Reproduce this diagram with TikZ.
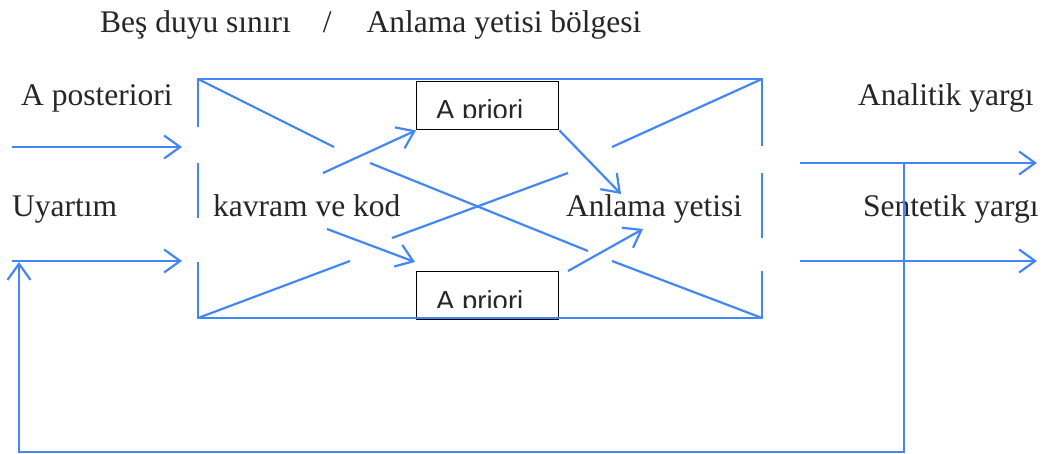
\documentclass[tikz,border=0pt]{standalone}
\usepackage{fontspec}
\setmainfont{Liberation Serif}
\newfontfamily\boxfont{Liberation Sans}
\usetikzlibrary{arrows.meta}
\definecolor{lblue}{RGB}{66,135,245}
\begin{document}
\begin{tikzpicture}[x=1pt,y=-1pt,
  bl/.style={draw=lblue, line width=2.2pt},
  arr/.style={bl, -{Straight Barb[length=16pt,width=23pt]}},
  lbl/.style={font=\fontsize{31.5}{36}\selectfont, inner sep=0pt, anchor=base west, text=black!85},
  pbox/.style={draw=black, line width=1.4pt, minimum width=142pt, minimum height=48pt, anchor=north west, inner sep=0pt},
  ptext/.style={font=\boxfont\fontsize{27.5}{30}\selectfont, inner sep=0pt, anchor=base west, text=black!85}]
\useasboundingbox (0,0) rectangle (1044,454);
% labels
\node[lbl] (title) at (100,33) {Beş duyu sınırı\hspace{32pt}/\hspace{35pt}Anlama yetisi bölgesi};
\node[lbl] (apost) at (21,106) {A posteriori};
\node[lbl] (uyar) at (12,217) {Uyartım};
\node[lbl] (kav) at (213,217) {kavram ve kod};
\node[lbl] (anl) at (566,217) {Anlama yetisi};
\node[lbl] (anal) at (858,106) {Analitik yargı};
\node[lbl] (sent) at (863,217) {Sentetik yargı};
% boxes
\node[pbox] (ap1) at (416,81) {};
\node[pbox] (ap2) at (416,271) {};
\begin{scope}
\clip (416,81) rectangle (558,118);
\node[ptext] (apt1) at (436,120) {A priori};
\end{scope}
\begin{scope}
\clip (416,271) rectangle (558,308);
\node[ptext] (apt2) at (436,310) {A priori};
\end{scope}
% frame coordinates
\coordinate (tl) at (198,79);
\coordinate (tr) at (762,79);
\coordinate (br) at (762,318);
\coordinate (bll) at (198,318);
\draw[bl] (198,127) -- (tl) -- (tr) -- (762,146);
\draw[bl] (198,163) -- (198,218);
\draw[bl] (198,262) -- (bll) -- (br) -- (762,271);
\draw[bl] (762,173) -- (762,238);
% diagonals
\coordinate (d1a) at (334,147);
\coordinate (d1b) at (370,163);
\coordinate (d1c) at (588,251);
\coordinate (d1d) at (612,261);
\draw[bl] (tl) -- (d1a);
\draw[bl] (d1b) -- (d1c);
\draw[bl] (d1d) -- (br);
\coordinate (d2a) at (350,261);
\coordinate (d2b) at (392,238);
\coordinate (d2c) at (568,173);
\coordinate (d2d) at (612,147);
\draw[bl] (bll) -- (d2a);
\draw[bl] (d2b) -- (d2c);
\draw[bl] (d2d) -- (tr);
% inner arrows
\coordinate (k1) at (323,173);
\coordinate (k2) at (327,229);
\coordinate (k2t) at (415,262);
\coordinate (a1t) at (621,194);
\coordinate (a2s) at (568,271);
\coordinate (a2t) at (643,229);
\draw[arr] (k1) -- (ap1.south west);
\draw[arr] (k2) -- (k2t);
\draw[arr] (ap1.south east) -- (a1t);
\draw[arr] (a2s) -- (a2t);
% left arrows
\coordinate (l1s) at (12,147);
\coordinate (l1t) at (182,147);
\coordinate (l2s) at (12,261);
\coordinate (l2t) at (182,261);
\draw[arr] (l1s) -- (l1t);
\draw[arr] (l2s) -- (l2t);
% right arrows
\coordinate (r1s) at (800,163);
\coordinate (r1t) at (1037,163);
\coordinate (r2s) at (800,261);
\coordinate (r2t) at (1037,261);
\draw[arr] (r1s) -- (r1t);
\draw[arr] (r2s) -- (r2t);
% feedback
\coordinate (fb0) at (904,163);
\coordinate (fb1) at (904,452);
\coordinate (fb2) at (19,452);
\coordinate (fb3) at (19,262);
\draw[arr] (fb0) -- (fb1) -- (fb2) -- (fb3);
\end{tikzpicture}
\end{document}
